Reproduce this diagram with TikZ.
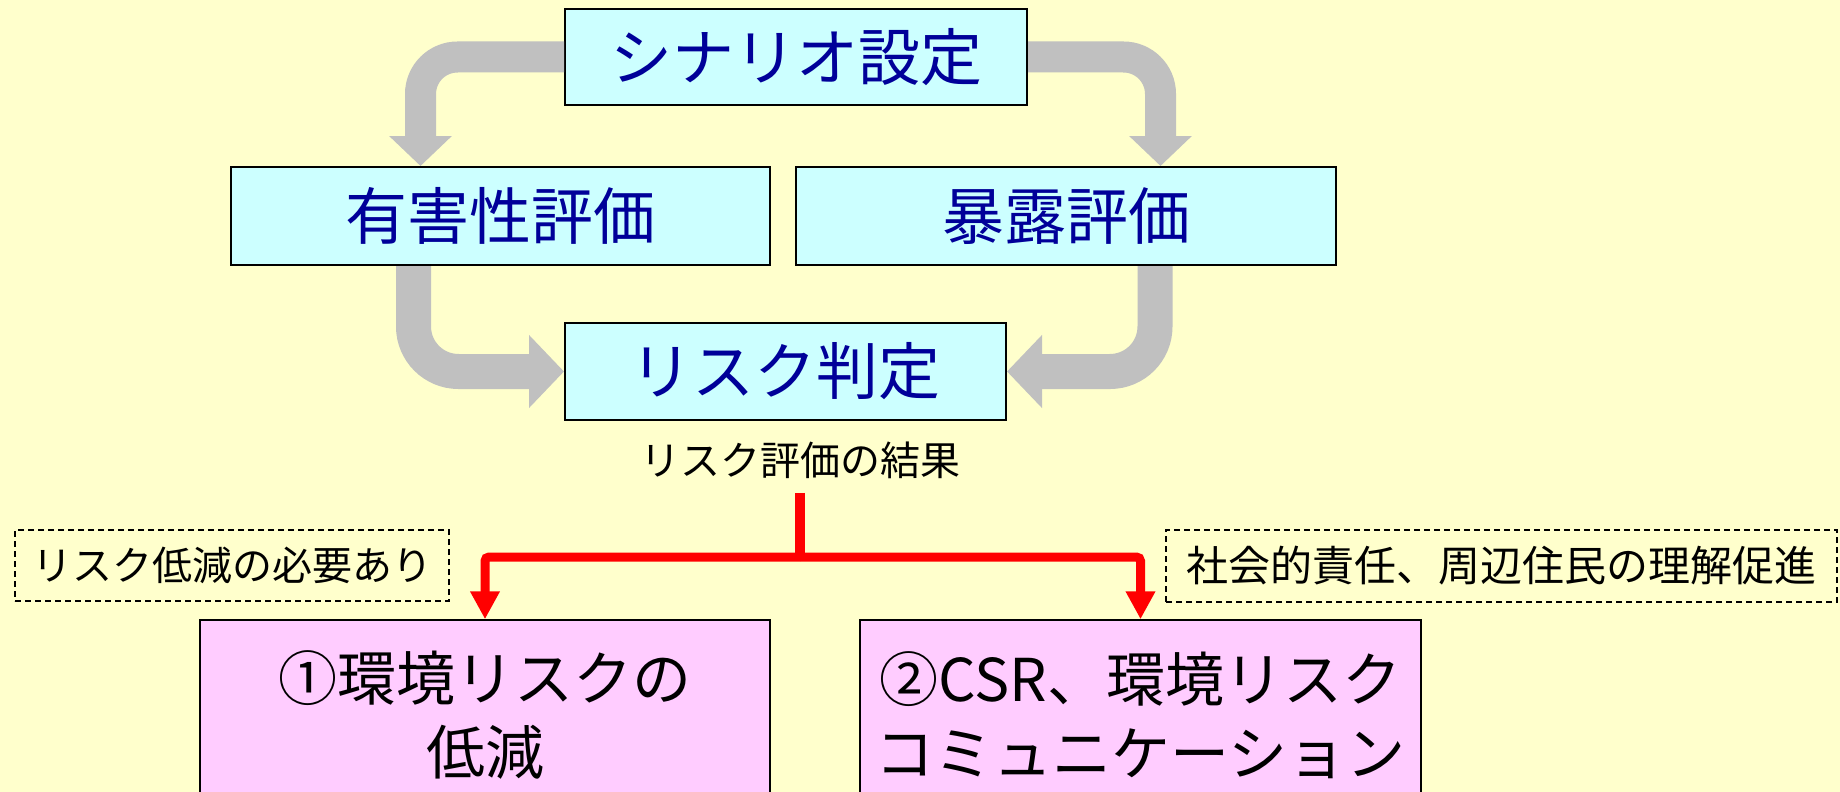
\documentclass[tikz,border=0pt]{standalone}
\usepackage{fontspec}
\setmainfont{Noto Sans CJK JP}
\usepackage{tikz}
\usetikzlibrary{arrows.meta}
\definecolor{bgyellow}{RGB}{255,255,204}
\definecolor{boxcyan}{RGB}{204,255,255}
\definecolor{boxpink}{RGB}{255,204,255}
\definecolor{navyblue}{RGB}{0,0,153}
\definecolor{arrowgrey}{RGB}{192,192,192}

\begin{document}
\begin{tikzpicture}[x=1pt,y=-1pt,
    stagebox/.style={draw=black,line width=2pt,fill=boxcyan,text=navyblue,
      font=\fontsize{62}{70}\selectfont,inner sep=0pt},
    actionbox/.style={draw=black,line width=1.5pt,fill=boxpink,align=center,
      font=\fontsize{59}{74}\selectfont,inner sep=0pt,minimum height=190pt},
    notebox/.style={draw=black,line width=1.5pt,dash pattern=on 6pt off 4pt,
      font=\fontsize{40}{48}\selectfont,inner sep=0pt},
    fatarrow/.style={draw=arrowgrey,line width=31pt,rounded corners=37pt,
      -{Triangle[width=61pt,length=30pt]}},
    widearrow/.style={draw=arrowgrey,line width=35pt,rounded corners=45pt,
      -{Triangle[width=71pt,length=35pt]}},
    redbar/.style={draw=red,line width=10pt},
    redarrow/.style={draw=red,line width=9pt,rounded corners=4pt,
      -{Triangle[width=28pt,length=28pt]}}]
                \useasboundingbox (0,0) rectangle (1840,792);
                \clip (0,0) rectangle (1840,792);
                \fill[bgyellow] (0,0) rectangle (1840,792);
                % upper half: assessment
                \node[stagebox,minimum width=462pt,minimum height=96pt] (scen) at (796,57){シナリオ設定};
                \node[stagebox,minimum width=539pt,minimum height=98pt] (haz) at (500.5,216){有害性評価};
                \node[stagebox,minimum width=540pt,minimum height=98pt] (exp) at (1066,216){暴露評価};
                \node[stagebox,minimum width=441pt,minimum height=97pt] (judge) at (785.5,371.5){リスク判定};
                \draw[fatarrow] (scen.west) -| ([xshift=190.5pt]haz.north west);
                \draw[fatarrow] (scen.east) -| ([xshift=365.5pt]exp.north west);
                \draw[widearrow] ([xshift=183.5pt]haz.south west) |- (judge.west);
                \draw[widearrow] ([xshift=360pt]exp.south west) |- (judge.east);
                % lower half: measures
                \node[font=\fontsize{40}{48}\selectfont] (result) at (800,460){リスク評価の結果};
                \node[notebox,minimum width=434pt,minimum height=71pt] (need) at (232,565.5){リスク低減の必要あり};
                \node[notebox,minimum width=671pt,minimum height=72pt,font=\fontsize{42}{48}\selectfont] (social) at (1501.5,566){社会的責任、周辺住民の理解促進};
                \node[actionbox,minimum width=570pt] (cut) at (485,715){①環境リスクの\\低減};
                \node[actionbox,minimum width=561pt] (csr) at (1140.5,715){②CSR、環境リスク\\コミュニケーション};
                \coordinate (split) at (800,557);
                \draw[redbar] ([yshift=-11pt]result.south) -- (split);
                \draw[redarrow] (split) -| (cut.north);
                \draw[redarrow] (split) -| (csr.north);
              \end{tikzpicture}
\end{document}
